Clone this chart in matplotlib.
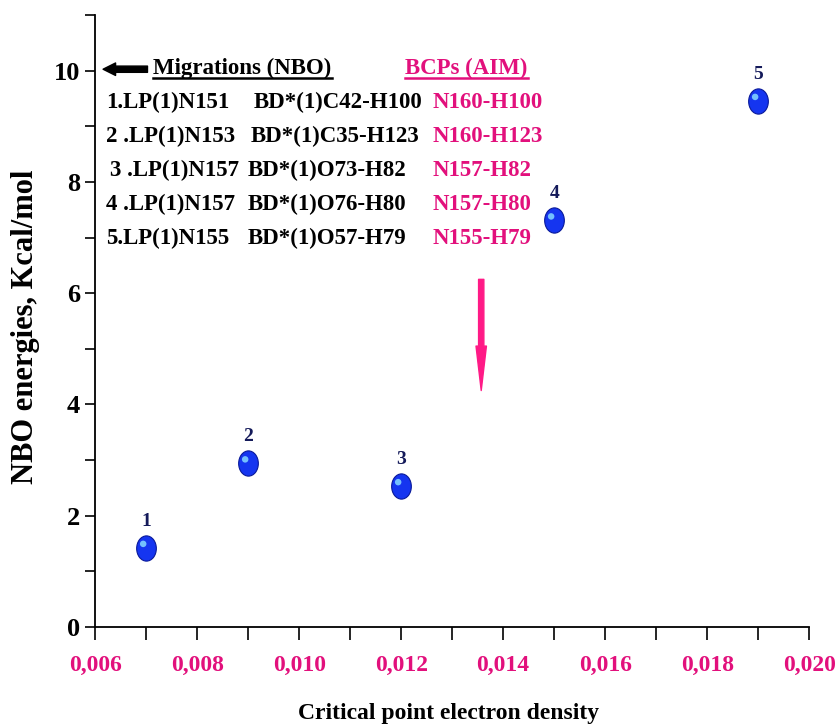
import matplotlib
matplotlib.use("Agg")
import matplotlib.pyplot as plt
import matplotlib.transforms as mtransforms
from matplotlib.lines import Line2D
from matplotlib.path import Path
from matplotlib.ticker import MultipleLocator, FuncFormatter

# data
density = [0.007, 0.009, 0.012, 0.015, 0.019]
energy = [1.42, 2.94, 2.53, 7.31, 9.46]
point_labels = ["1", "2", "3", "4", "5"]

nbo_donor = ["1.LP(1)N151", "2 .LP(1)N153", "3 .LP(1)N157", "4 .LP(1)N157", "5.LP(1)N155"]
nbo_acceptor = ["BD*(1)C42-H100", "BD*(1)C35-H123", "BD*(1)O73-H82", "BD*(1)O76-H80", "BD*(1)O57-H79"]
bcp_pairs = ["N160-H100", "N160-H123", "N157-H82", "N157-H80", "N155-H79"]

pink = "#e2107c"
plt.rcParams["font.family"] = "Liberation Serif"
plt.rcParams["font.weight"] = "bold"

fig = plt.figure(figsize=(8.35, 7.28), dpi=100)
ax = fig.add_axes([0.114, 0.139, 0.855, 0.840])

# slightly tall blue spheres with a small highlight
oval = Path.unit_circle().transformed(mtransforms.Affine2D().scale(0.78, 1.0))
ax.scatter(density, energy, s=330, marker=oval, c="#1535f0", edgecolors="#0a1a9a", linewidths=0.8, zorder=3)
hl = mtransforms.offset_copy(ax.transData, fig=fig, x=-3, y=4, units="dots")
ax.scatter(density, energy, s=22, c="#7fd0ff", edgecolors="none", alpha=0.9, transform=hl, zorder=4)
for x, y, lab in zip(density, energy, point_labels):
    ax.annotate(lab, (x, y), xytext=(0, 13), textcoords="offset points", ha="center", va="bottom",
                fontsize=14, color="#141a5a", fontweight="bold")

ax.set_xlim(0.006, 0.020)
ax.set_ylim(0, 11)
ax.xaxis.set_major_locator(MultipleLocator(0.002))
ax.xaxis.set_minor_locator(MultipleLocator(0.001))
ax.yaxis.set_major_locator(MultipleLocator(2))
ax.yaxis.set_minor_locator(MultipleLocator(1))
ax.xaxis.set_major_formatter(FuncFormatter(lambda v, p: f"{v:.3f}".replace(".", ",")))
ax.yaxis.set_major_formatter(FuncFormatter(lambda v, p: f"{v:.0f}"))
ax.tick_params(axis="y", which="both", length=7, width=1.2, direction="out", labelsize=19, pad=4)
ax.tick_params(axis="x", which="both", length=9, width=1.2, direction="out", labelsize=17, pad=11)
for t in ax.get_xticklabels():
    t.set_color(pink)
ax.spines["top"].set_visible(False)
ax.spines["right"].set_visible(False)
ax.spines["left"].set_linewidth(1.3)
ax.spines["bottom"].set_linewidth(1.3)

ax.set_xlabel("Critical point electron density", fontsize=17, fontweight="bold")
ax.xaxis.set_label_coords(0.495, -0.124)
ax.set_ylabel("NBO energies, Kcal/mol", fontsize=22, fontweight="bold")
ax.yaxis.set_label_coords(-0.078, 0.49)

# header with black arrow
ax.annotate("", xy=(0.0061, 10.03), xytext=(0.00708, 10.03),
            arrowprops=dict(arrowstyle="simple,head_width=0.9,head_length=0.9,tail_width=0.45",
                            fc="black", ec="black"))
h1 = ax.text(0.00714, 10.05, "Migrations (NBO)", fontsize=16.5, fontweight="bold", va="center", ha="left")
h2 = ax.text(0.01208, 10.05, "BCPs (AIM)", fontsize=16.5, fontweight="bold", va="center", ha="left", color=pink)

col1_x = [0.00622, 0.00622, 0.00630, 0.00622, 0.00622]
col2_x = [0.00910, 0.00905, 0.00900, 0.00900, 0.00900]
for i in range(len(nbo_donor)):
    y = 9.44 - 0.615 * i
    ax.text(col1_x[i], y, nbo_donor[i], fontsize=16.5, fontweight="bold", va="center")
    ax.text(col2_x[i], y, nbo_acceptor[i], fontsize=16.5, fontweight="bold", va="center")
    ax.text(0.01262, y, bcp_pairs[i], fontsize=16.5, fontweight="bold", va="center", color=pink)

# pink arrow
ax.annotate("", xy=(0.01357, 4.2), xytext=(0.01357, 6.3),
            arrowprops=dict(arrowstyle="simple,head_width=0.75,head_length=3.2,tail_width=0.38",
                            fc="#ff1a86", ec="#ff1a86"))

# underline the two headers
fig.canvas.draw()
inv = fig.transFigure.inverted()
for txt, col in ((h1, "black"), (h2, pink)):
    bb = txt.get_window_extent()
    (x0, y0), (x1, _) = inv.transform([(bb.x0, bb.y0 + 1), (bb.x1, bb.y0)])
    fig.add_artist(Line2D([x0, x1], [y0, y0], color=col, lw=1.8, transform=fig.transFigure))

fig.savefig("out.png", dpi=100)
